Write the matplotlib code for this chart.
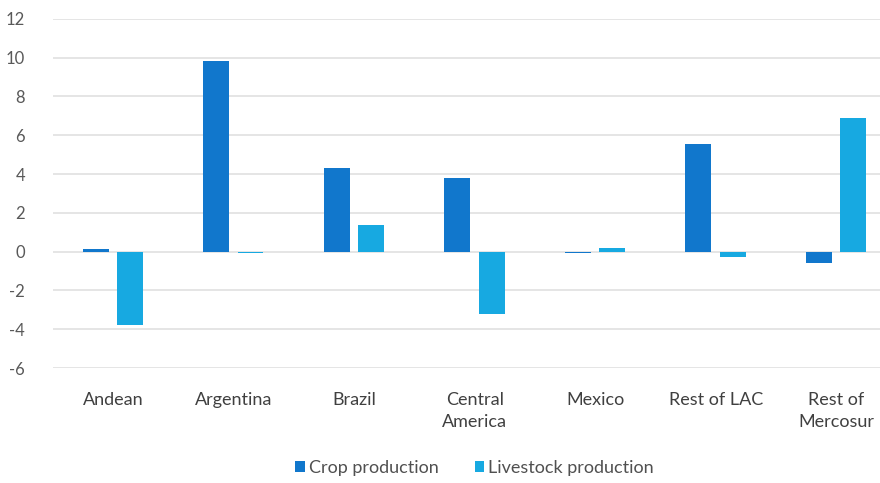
import numpy as np
import matplotlib
matplotlib.use("Agg")
import matplotlib.pyplot as plt

regions = ["Andean", "Argentina", "Brazil", "Central\nAmerica", "Mexico",
           "Rest of LAC", "Rest of\nMercosur"]
crop = [0.15, 9.85, 4.3, 3.8, -0.05, 5.55, -0.6]
livestock = [-3.8, -0.05, 1.35, -3.2, 0.2, -0.3, 6.9]

CROP_C = "#1177cc"
LIVE_C = "#17a9e1"

plt.rcParams["font.family"] = ["Lato", "DejaVu Sans"]
plt.rcParams["axes.unicode_minus"] = False

fig = plt.figure(figsize=(8.8, 4.83), dpi=100)
# plot area runs slightly past the right edge, as in the source image
AX_L, AX_W = 0.06, 0.959
ax = fig.add_axes([AX_L, 0.238, AX_W, 0.723])

x = np.arange(len(regions))
w = 0.215
ax.bar(x - 0.145, crop, w, color=CROP_C, label="Crop production", zorder=3)
ax.bar(x + 0.14, livestock, w, color=LIVE_C, label="Livestock production", zorder=3)

ax.set_xlim(-0.5, len(regions) - 0.5)
ax.set_ylim(-6, 12)
ax.set_yticks(range(-6, 13, 2))
ax.yaxis.grid(True, color="#e3e3e3", linewidth=1.3, zorder=0)
ax.set_axisbelow(True)
for s in ax.spines.values():
    s.set_visible(False)
ax.tick_params(length=0, colors="#595959", labelsize=12)
ax.tick_params(axis="x", pad=17, labelsize=13)
ax.tick_params(axis="y", pad=20)
ax.set_xticks(x)
ax.set_xticklabels(regions, color="#404040", linespacing=1.45)

# legend is centred under the plot area, not the figure
fig.legend(loc="center", bbox_to_anchor=(AX_L + AX_W / 2, 0.031), ncol=2,
           frameon=False, fontsize=13, handlelength=0.5, handleheight=0.5,
           handletextpad=0.25, columnspacing=2.0, labelcolor="#505050")

fig.savefig("out.png", dpi=100)
